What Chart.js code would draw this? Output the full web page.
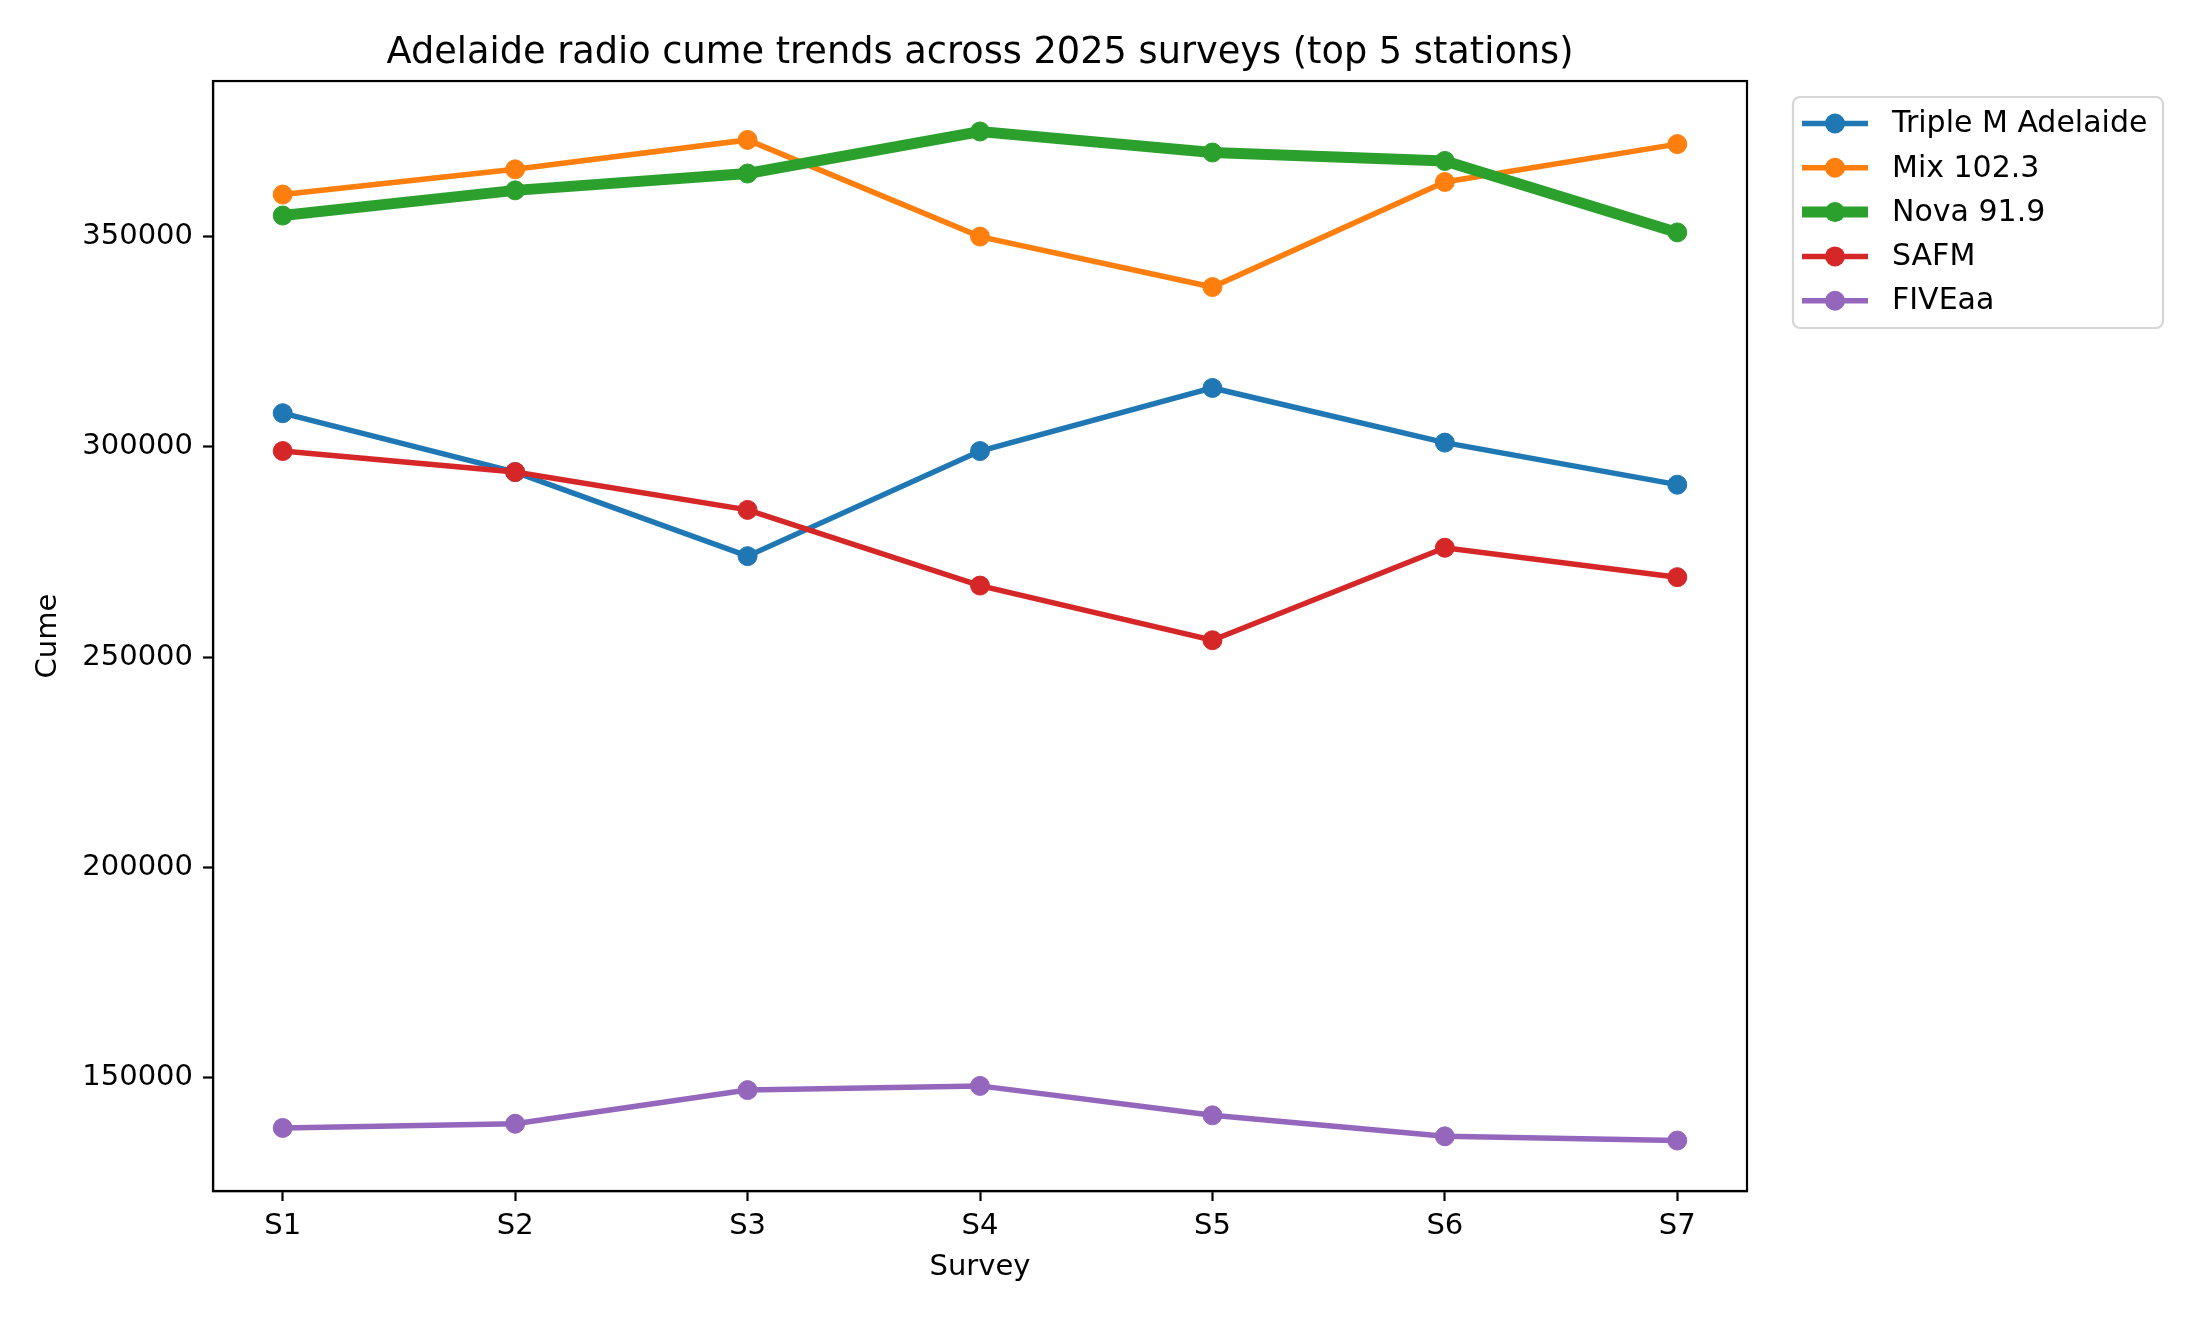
<!DOCTYPE html>
<html>
<head>
<meta charset="utf-8">
<script src="https://cdn.jsdelivr.net/npm/chart.js@4.4.1/dist/chart.umd.min.js"></script>
<style>
  html, body { margin: 0; padding: 0; background: #fff; }
  canvas { display: block; }
</style>
</head>
<body>
<canvas id="chart" width="2200" height="1320"></canvas>
<script>
const surveys = ["S1", "S2", "S3", "S4", "S5", "S6", "S7"];
const stations = ["Triple M Adelaide", "Mix 102.3", "Nova 91.9", "SAFM", "FIVEaa"];
const tripleM = [308000, 294000, 274000, 299000, 314000, 301000, 291000];
const mix = [360000, 366000, 373000, 350000, 338000, 363000, 372000];
const nova = [355000, 361000, 365000, 375000, 370000, 368000, 351000];
const safm = [299000, 294000, 285000, 267000, 254000, 276000, 269000];
const fiveaa = [138000, 139000, 147000, 148000, 141000, 136000, 135000];
const yTicks = [150000, 200000, 250000, 300000, 350000];

const colors = ["#1f77b4", "#ff7f0e", "#2ca02c", "#d62728", "#9467bd"];
const widths = [5.5, 5.5, 11, 5.5, 5.5];
const series = [tripleM, mix, nova, safm, fiveaa];
const FONT = "'DejaVu Sans', sans-serif";

const datasets = series.map((vals, i) => ({
    label: stations[i],
    data: vals.map((v, j) => ({ x: j, y: v })),
    borderColor: colors[i],
    backgroundColor: colors[i],
    borderWidth: widths[i],
    pointRadius: 9.5,
    pointBorderWidth: 1,
    pointBackgroundColor: colors[i],
    pointBorderColor: colors[i],
    tension: 0,
    order: series.length - i
}));

// box legend on the right, like matplotlib's bbox_to_anchor one
const legendBox = {
    id: "legendBox",
    afterDraw(chart) {
        const ctx = chart.ctx;
        const x0 = 1793, y0 = 97, w = 370, h = 231;
        ctx.save();
        ctx.fillStyle = "#fff";
        ctx.strokeStyle = "#d6d6d6";
        ctx.lineWidth = 2.2;
        ctx.beginPath();
        ctx.roundRect(x0, y0, w, h, 7);
        ctx.fill();
        ctx.stroke();
        ctx.font = "30px " + FONT;
        ctx.textBaseline = "middle";
        ctx.textAlign = "left";
        stations.forEach((name, i) => {
            const y = 123.5 + i * 44.3;
            ctx.strokeStyle = colors[i];
            ctx.lineWidth = widths[i];
            ctx.beginPath();
            ctx.moveTo(1802, y);
            ctx.lineTo(1868, y);
            ctx.stroke();
            ctx.fillStyle = colors[i];
            ctx.beginPath();
            ctx.arc(1835, y, 10, 0, Math.PI * 2);
            ctx.fill();
            ctx.fillStyle = "#000";
            ctx.fillText(name, 1892, y + 1);
        });
        ctx.restore();
    }
};

const frame = {
    id: "frame",
    afterDatasetsDraw(chart) {
        const a = chart.chartArea;
        const ctx = chart.ctx;
        ctx.save();
        ctx.strokeStyle = "#000";
        ctx.lineWidth = 2.2;
        ctx.strokeRect(a.left, a.top, a.right - a.left, a.bottom - a.top);
        ctx.restore();
    }
};

new Chart(document.getElementById("chart").getContext("2d"), {
    type: "line",
    data: { datasets: datasets },
    options: {
        responsive: false,
        animation: false,
        layout: { padding: { left: 0, top: 0, right: 453, bottom: 0 } },
        plugins: {
            legend: { display: false },
            tooltip: { enabled: false },
            title: {
                display: true,
                fullSize: false,
                text: "Adelaide radio cume trends across 2025 surveys (top 5 stations)",
                color: "#000",
                font: { family: FONT, size: 36.7, weight: "normal", lineHeight: 1.2 },
                padding: { top: 31, bottom: 6 }
            }
        },
        scales: {
            x: {
                type: "linear",
                min: -0.3,
                max: 6.3,
                afterBuildTicks: s => { s.ticks = surveys.map((_, i) => ({ value: i })); },
                afterFit: s => { s.height = 129; },
                ticks: {
                    autoSkip: false,
                    maxRotation: 0,
                    color: "#000",
                    padding: 8,
                    font: { family: FONT, size: 29 },
                    callback: v => surveys[v]
                },
                grid: { display: true, drawOnChartArea: false, tickLength: 10, tickColor: "#000", tickWidth: 2.2 },
                border: { color: "#000", width: 2.2 },
                title: {
                    display: true, text: "Survey", color: "#000",
                    font: { family: FONT, size: 29, lineHeight: 1.2 },
                    padding: { top: 0, bottom: 35 }
                }
            },
            y: {
                min: 123000,
                max: 387000,
                afterBuildTicks: s => { s.ticks = yTicks.map(v => ({ value: v })); },
                afterFit: s => { s.width = 213; },
                ticks: {
                    color: "#000",
                    padding: 10,
                    font: { family: FONT, size: 29 },
                    callback: v => String(v)
                },
                grid: { display: true, drawOnChartArea: false, tickLength: 10, tickColor: "#000", tickWidth: 2.2 },
                border: { color: "#000", width: 2.2 },
                title: {
                    display: true, text: "Cume", color: "#000",
                    font: { family: FONT, size: 29, lineHeight: 1.2 },
                    padding: { top: 31, bottom: 0 }
                }
            }
        }
    },
    plugins: [frame, legendBox]
});
</script>
</body>
</html>
